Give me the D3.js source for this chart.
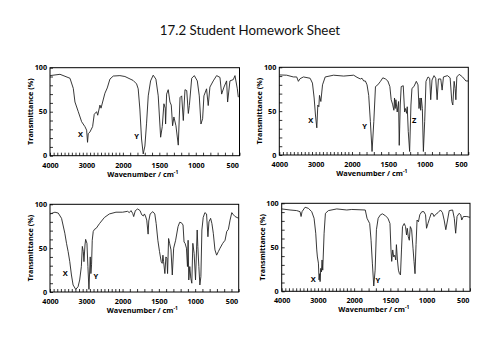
<!DOCTYPE html>
<html>
<head>
<meta charset="utf-8">
<script src="https://cdn.jsdelivr.net/npm/d3@7"></script>
<style>
  html, body { margin: 0; padding: 0; background: #fff; }
  svg { display: block; }
</style>
</head>
<body>
<svg id="chart" width="500" height="353"></svg>
<script>
// ---------- DATA ----------
const title = "17.2 Student Homework Sheet";
const xTickLabels = [4000, 3000, 2000, 1500, 1000, 500];
const yTickLabels = [0, 50, 100];

const wn1 = [4000,3726,3452,3361,3315,3224,3132,3041,2995,2970,2950,2904,2831,2786,2721,2690,2630,2600,2493,2429,2356,2265,2082,1972,1859,1812,1790,1767,1744,1721,1698,1675,1652,1620,1584,1547,1515,1482,1460,1437,1419,1414,1400,1378,1354,1336,1318,1300,1272,1240,1216,1193,1171,1148,1124,1102,1088,1056,1020,979,952,929,906,888,852,829,806,760,714,668,645,613,577,563,531,485,462,430,416];
const t1  = [91,92.5,88,76.5,61,50,38.6,33,29,15.2,25,27,33,47,50,46,57.5,54,71,77,87,90.5,91,90,85.5,81.6,76,53,19,2,11,37,68,85,91.5,87,68,21,33,59,54,36,70,75,61,57.5,34,44,34,12,66,68,40,75,74,48,57,88,91,85,68,36,42,68,76,57,78,85,91,89,70,78,85,61,85,86.5,91,76,66.5];

const wn2 = [4000,3797,3613,3521,3475,3429,3336,3152,3088,3041,3005,2968,2940,2912,2894,2857,2811,2737,2507,2230,1977,1931,1885,1862,1839,1816,1793,1770,1747,1724,1700,1677,1645,1608,1576,1539,1507,1479,1461,1442,1424,1415,1406,1396,1378,1359,1350,1336,1323,1295,1276,1263,1249,1240,1226,1207,1189,1175,1148,1115,1092,1078,1064,1055,1046,1032,1018,1000,982,954,931,917,899,871,848,829,811,779,760,742,687,650,627,613,595,581,571,558,525,479,433,400];
const t2  = [91.3,91,89,89,84,87,89,87.5,82,65,45.6,31,57,55,68,61,80,89,91,90,91,88.6,86.7,87.5,84.4,84.4,80,68,38,4,38,78,80,84,88,86.7,84.4,78,63,58,51,65,53,63,49,61,11,57,78,79,49,53,47.5,55,27,4,57,76,78,84,80,53,65,51,65,53,4,38,84,89,87.5,63,85.5,90.5,87.5,63,86.7,86.7,74,89,90.5,88,61,57,84,76,63,89,92,89,84.4,84.4];

const wn3 = [4000,3864,3773,3682,3591,3545,3500,3455,3409,3364,3291,3227,3182,3136,3109,3082,3064,3036,3018,2982,2955,2927,2891,2873,2855,2836,2809,2773,2727,2636,2500,2364,2182,2000,1931,1907,1884,1861,1847,1824,1792,1759,1736,1713,1699,1685,1667,1648,1639,1620,1583,1556,1537,1514,1491,1468,1454,1444,1435,1417,1403,1389,1380,1366,1352,1333,1315,1296,1269,1236,1213,1190,1167,1153,1139,1120,1106,1097,1088,1074,1060,1046,1032,1014,995,981,972,963,949,935,921,907,889,866,843,824,810,787,769,750,727,704,681,657,620,588,565,542,519,495,472,449,400];
const t3  = [89,91,90,84,67,55.5,46,34.6,19.4,8,3,6,13.7,29,52,46,34.6,53.6,60,55.5,29,3,40,21,31,59,69,71.5,72.6,78,85,89,91,91,92,90.5,92.8,89.7,86,92.8,94.7,92.8,88,86.7,89,86.7,82,66,81,89,91.6,89,78,59,46,34.6,32.7,42,34.6,21,40,38.4,21,61,55.5,48,19.4,50,59,74.5,79.5,79,76.4,57,55.5,50,29,59,13.7,29,15.6,10,55.5,44,13.7,48,70.7,52,29,8,17.5,70.7,85,90.5,89,63,80,84,78,67,48,42,46,50,55.5,59,69,71.5,82,90.5,88,86,84];

const wn4 = [4000,3770,3585,3493,3465,3438,3355,3263,3171,3106,3060,3032,3014,2986,2968,2949,2940,2922,2903,2885,2867,2829,2793,2710,2479,2203,2065,1846,1822,1785,1766,1748,1729,1710,1692,1668,1636,1607,1565,1533,1505,1491,1481,1467,1453,1439,1425,1416,1402,1388,1374,1360,1346,1332,1308,1290,1276,1266,1252,1238,1224,1206,1187,1173,1159,1145,1131,1112,1093,1065,1037,1014,1000,981,958,935,911,897,879,841,808,780,757,734,710,687,640,617,598,579,551,528,514,491,444,400];
const t4  = [93.6,92.4,91.7,90.5,85,90.5,95.5,94.3,90.5,83,66,47,39,32,13,20,11,26,22,35.6,24,66,88.6,91.7,93.6,92.4,93,92.4,83,77,58,32,6,24,70,83,87,88,85.6,83,77,47,34,47,39,41,35.6,53,35.6,24,20,18.6,47,73.5,77,73.5,64,71.6,62,58,73.5,70,49,34,20,53,81,79,87,90.5,90.5,87,71.6,77,83,88.6,88,85,87,89.4,92.4,89.4,81,70,81,91.7,92.4,83,66,85,88.6,87,81,85,85,84];

const labels1 = ["X", "Y"];
const labels2 = ["X", "Y", "Z"];
const labels3 = ["X", "Y"];
const labels4 = ["X", "Y"];
const labelWn1 = [3160, 1812];
const labelWn2 = [3136, 1827, 1143];
const labelWn3 = [3578, 2740];
const labelWn4 = [3128, 1673];
const labelT1 = [24.5, 22.5];
const labelT2 = [40, 33, 40];
const labelT3 = [21, 18];
const labelT4 = [14, 12.8];

// ---------- LAYOUT ----------
const panels = [
  { wn: wn1, t: t1, lab: labels1, lw: labelWn1, lt: labelT1, l: 50,    r: 239.5, top: 67.7,  bot: 155.7 },
  { wn: wn2, t: t2, lab: labels2, lw: labelWn2, lt: labelT2, l: 279.3, r: 468.3, top: 67.3,  bot: 155 },
  { wn: wn3, t: t3, lab: labels3, lw: labelWn3, lt: labelT3, l: 50,    r: 238.7, top: 204.3, bot: 292 },
  { wn: wn4, t: t4, lab: labels4, lw: labelWn4, lt: labelT4, l: 281.7, r: 470,   top: 203.3, bot: 291.3 }
];

const svg = d3.select("#chart");
const FONT = "'Open Sans', 'Liberation Sans', sans-serif";

svg.append("text")
  .attr("x", 250).attr("y", 35)
  .attr("text-anchor", "middle")
  .attr("font-family", "Lato, 'Open Sans', sans-serif")
  .attr("font-size", 13.3)
  .attr("fill", "#111")
  .text(title);

panels.forEach(p => {
  const w = p.r - p.l;
  const xm = p.l + w * 1000 / 2600;
  const x = d3.scaleLinear().domain([4000, 2000, 400]).range([p.l, xm, p.r]);
  const y = d3.scaleLinear().domain([0, 100]).range([p.bot, p.top]);
  const g = svg.append("g");

  // x axis (ticks inward)
  const xMinor = d3.range(4000, 399, -100);
  const xa = g.append("g").attr("transform", `translate(0,${p.bot})`)
    .call(d3.axisBottom(x).tickValues(xMinor).tickSize(-3).tickSizeOuter(0)
      .tickFormat(d => xTickLabels.includes(d) ? d : ""));
  xa.select(".domain").remove();
  xa.selectAll(".tick line").attr("stroke", "#000").attr("stroke-width", 0.8);
  xa.selectAll(".tick text").attr("font-family", FONT).attr("font-weight", "bold")
    .attr("font-size", 7.2).attr("fill", "#000").attr("dy", "0").attr("y", 12);

  // y axis (ticks inward)
  const ya = g.append("g").attr("transform", `translate(${p.l},0)`)
    .call(d3.axisLeft(y).tickValues(d3.range(0, 101, 10)).tickSize(-3).tickSizeOuter(0)
      .tickFormat(d => yTickLabels.includes(d) ? d : ""));
  ya.select(".domain").remove();
  ya.selectAll(".tick line").attr("stroke", "#000").attr("stroke-width", 0.8);
  ya.selectAll(".tick text").attr("font-family", FONT).attr("font-weight", "bold")
    .attr("font-size", 7.2).attr("fill", "#000").attr("x", -3).attr("dy", "0.3em");

  // frame
  g.append("rect").attr("x", p.l).attr("y", p.top).attr("width", w).attr("height", p.bot - p.top)
    .attr("fill", "none").attr("stroke", "#000").attr("stroke-width", 1);

  // spectrum
  const pts = p.wn.map((d, i) => [d, p.t[i]]);
  g.append("path").datum(pts)
    .attr("fill", "none").attr("stroke", "#222").attr("stroke-width", 0.9)
    .attr("stroke-linejoin", "round")
    .attr("d", d3.line().x(d => x(d[0])).y(d => y(d[1])));

  // peak labels
  p.lab.forEach((s, i) => {
    g.append("text").attr("x", x(p.lw[i])).attr("y", y(p.lt[i]))
      .attr("text-anchor", "middle").attr("dy", "0.35em")
      .attr("font-family", FONT).attr("font-weight", "bold").attr("font-size", 7.5)
      .attr("fill", "#000").text(s);
  });

  // axis titles
  const xt = g.append("text").attr("x", (p.l + p.r) / 2 - 2).attr("y", p.bot + 21)
    .attr("text-anchor", "middle").attr("font-family", FONT).attr("font-weight", "bold")
    .attr("font-size", 7.3).attr("fill", "#000");
  xt.append("tspan").text("Wavenumber / cm");
  xt.append("tspan").attr("font-size", 5).attr("dy", -3).text("-1");

  g.append("text")
    .attr("transform", `translate(${p.l - 17},${(p.top + p.bot) / 2}) rotate(-90)`)
    .attr("text-anchor", "middle").attr("font-family", FONT).attr("font-weight", "bold")
    .attr("font-size", 7.3).attr("fill", "#000").text("Transmittance (%)");
});
</script>
</body>
</html>
